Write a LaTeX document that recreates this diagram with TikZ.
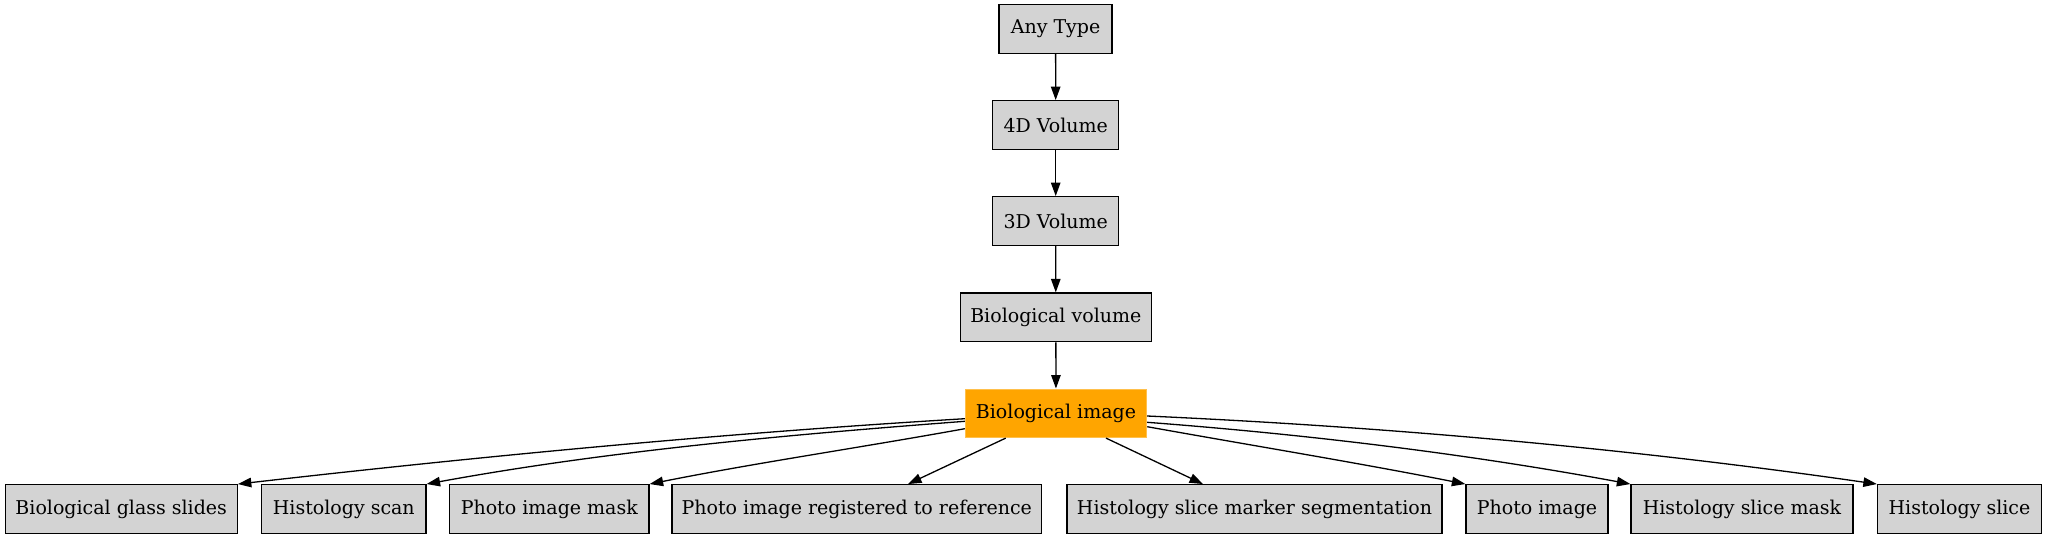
\documentclass[tikz,border=0pt]{standalone}
\usepackage{fontspec}
\setmainfont{DejaVu Serif}
\usetikzlibrary{arrows.meta}
\definecolor{boxgray}{HTML}{D3D3D3}
\definecolor{gvorange}{HTML}{FFA500}
\begin{document}
\begin{tikzpicture}[x=1pt,y=-1pt,
  tbox/.style={draw=black,fill=boxgray,line width=1.3pt,minimum height=48.6pt,inner sep=0pt,
    font=\fontsize{19}{23}\selectfont},
  hbox/.style={fill=gvorange,draw=gvorange!70!white,line width=1pt,minimum height=48.6pt,inner sep=0pt,
    font=\fontsize{19}{23}\selectfont},
  edge/.style={line width=1.3pt,-{Triangle[length=13.5pt,width=9.5pt]}}]
\useasboundingbox (0,0) rectangle (2047,539);
% top chain
\node[tbox,minimum width=113pt] (anytype) at (1055.6,29) {Any Type};
\node[tbox,minimum width=126pt] (v4d) at (1055.7,125) {4D Volume};
\node[tbox,minimum width=126pt] (v3d) at (1055.7,221) {3D Volume};
\node[tbox,minimum width=191pt] (biovol) at (1055.8,317.3) {Biological volume};
\node[hbox,minimum width=181.4pt] (bioimg) at (1056,413.3) {Biological image};
% bottom row
\node[tbox,minimum width=232pt] (glass) at (121.2,509) {Biological glass slides};
\node[tbox,minimum width=164.3pt] (hscan) at (343.8,509) {Histology scan};
\node[tbox,minimum width=199.4pt] (pmask) at (549.3,509) {Photo image mask};
\node[tbox,minimum width=369.5pt] (preg) at (856.8,509) {Photo image registered to reference};
\node[tbox,minimum width=375pt] (hseg) at (1254.5,509) {Histology slice marker segmentation};
\node[tbox,minimum width=142pt] (photo) at (1537,509) {Photo image};
\node[tbox,minimum width=222pt] (hsmask) at (1742,509) {Histology slice mask};
\node[tbox,minimum width=164pt] (hslice) at (1959.5,509) {Histology slice};
% chain edges
\draw[edge] (anytype) -- (v4d);
\draw[edge] (v4d) -- (v3d);
\draw[edge] (v3d) -- (biovol);
\draw[edge] (biovol) -- (bioimg);
% fan-out
\draw[edge] ([yshift=-5.4pt]bioimg.west) .. controls +(-243,14.6) and +(243,-27.7) .. (glass.north east);
\draw[edge] ([yshift=-8pt]bioimg.west) .. controls +(-180,13.7) and +(180,-33) .. (hscan.north east);
\draw[edge] ([yshift=-15.4pt]bioimg.west) .. controls +(-105,19) and +(105,-21) .. (pmask.north east);
\draw[edge] ([xshift=-50.3pt]bioimg.south) -- ([xshift=51.2pt]preg.north);
\draw[edge] ([xshift=50pt]bioimg.south) -- ([xshift=-51.5pt]hseg.north);
\draw[edge] ([yshift=-13.4pt]bioimg.east) .. controls +(106,19) and +(-106,-21) .. (photo.north west);
\draw[edge] ([yshift=-9pt]bioimg.east) .. controls +(162,12.3) and +(-162,-30) .. (hsmask.north west);
\draw[edge] ([yshift=-2.7pt]bioimg.east) .. controls +(244,11) and +(-243,-35) .. (hslice.north west);
\end{tikzpicture}
\end{document}
